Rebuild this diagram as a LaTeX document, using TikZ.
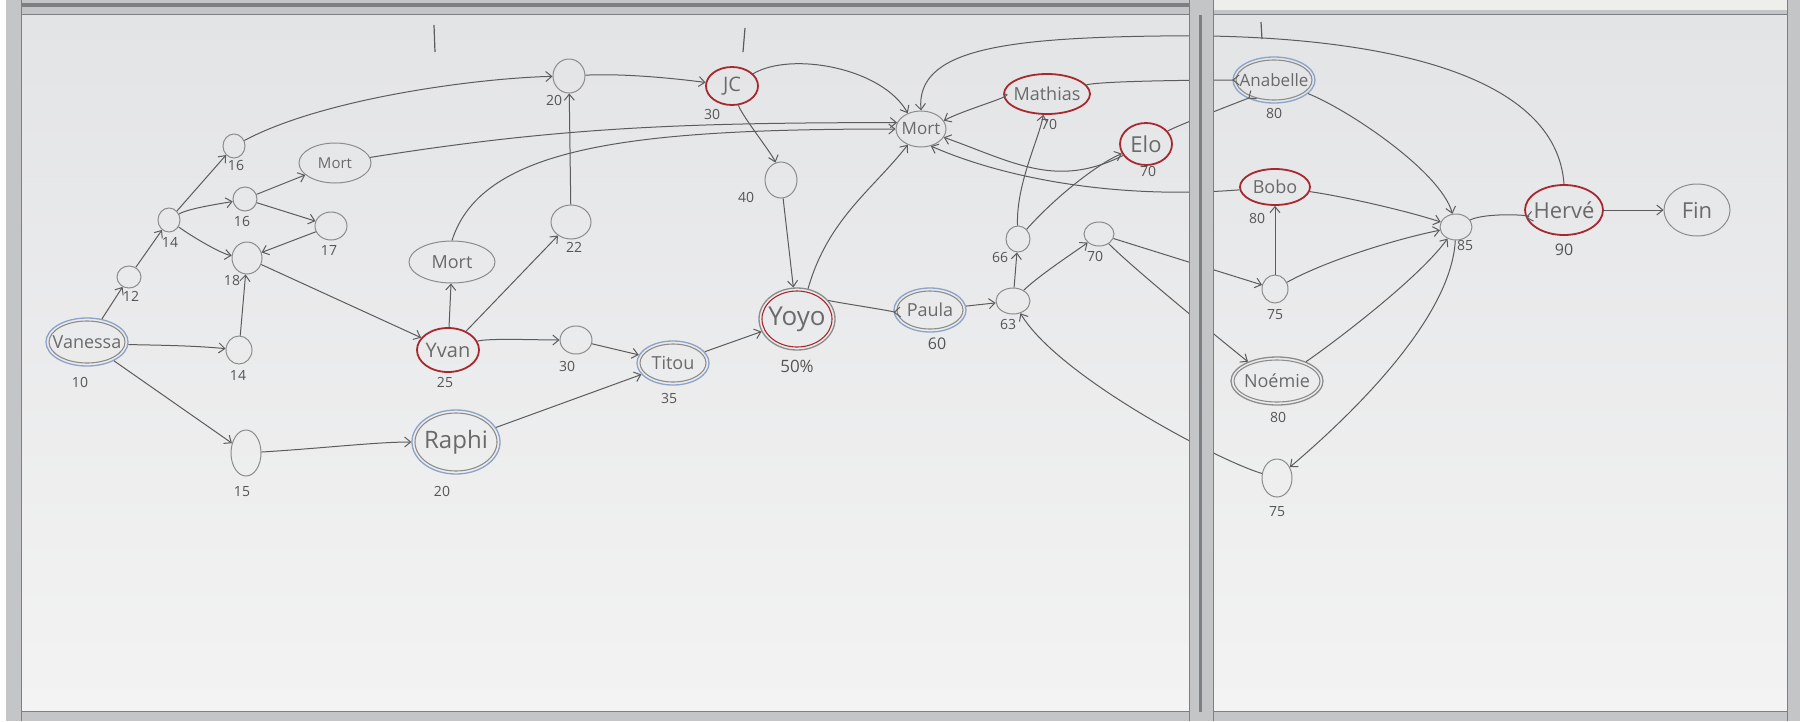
\documentclass[tikz,border=0pt]{standalone}
\usepackage{fontspec}
\setmainfont{Open Sans}
\usetikzlibrary{shapes.geometric,arrows.meta,calc}
\definecolor{wall}{HTML}{EEEEEC}
\definecolor{boardtop}{HTML}{E3E4E6}
\definecolor{boardbot}{HTML}{F3F3F3}
\definecolor{metal}{HTML}{C4C5C7}
\definecolor{metaldark}{HTML}{7E7F82}
\definecolor{linec}{HTML}{5C5C5C}
\definecolor{txt}{HTML}{6A6A6A}
\definecolor{numc}{HTML}{555555}
\definecolor{ringred}{HTML}{A82830}
\definecolor{ringblue}{HTML}{8CA2C8}
\definecolor{ringgray}{HTML}{8C8C8C}
\newcommand\bnm[1]{\makebox[0pt]{#1}}
\begin{document}
\begin{tikzpicture}[x=1pt,y=-1pt,
  nd/.style={ellipse, draw=ringgray, line width=1pt, inner sep=0pt, text=txt,
             font=\fontsize{18}{20}\selectfont},
  sz/.style 2 args={minimum width=#1, minimum height=#2},
  redn/.style={nd, draw=ringred, line width=1.8pt},
  dbl/.style 2 args={nd, draw=#1, line width=1.3pt,
     path picture={\draw[#2, line width=1.1pt]
       let \p1=(path picture bounding box.north east),
           \p2=(path picture bounding box.center) in
       (\p2) ellipse [x radius={\x1-\x2-3pt}, y radius={\y1-\y2-3pt}];}},
  num/.style={text=numc, font=\fontsize{14}{16}\selectfont, inner sep=0pt},
  ed/.style={draw=linec, line width=1pt, -{Straight Barb[length=6pt,width=10pt]}},
  pl/.style={draw=linec, line width=1pt},
  tick/.style={draw=linec, line width=1.2pt}]
% ---------- background, boards ----------
\useasboundingbox (0,0) rectangle (1800,721);
\fill[wall] (0,0) rectangle (1800,721);
\shade[top color=boardtop, bottom color=boardbot] (22,15) rectangle (1190,712);
\shade[top color=boardtop, bottom color=boardbot] (1213,15) rectangle (1787,712);
% ---------- nodes ----------
\node[dbl={ringblue}{ringgray}, sz={82}{48}] (van) at (87,342) {\bnm{Vanessa}};
\node[nd, sz={24}{22}] (n12) at (129,277) {};
\node[nd, sz={22}{24}] (n14a) at (169,220) {};
\node[nd, sz={22}{24}] (n16a) at (234,146) {};
\node[nd, sz={24}{24}] (n16b) at (245,199) {};
\node[nd, sz={72}{40}, font=\fontsize{15}{17}\selectfont] (mort1) at (335,163) {\bnm{Mort}};
\node[nd, sz={32}{28}] (n17) at (331,226) {};
\node[nd, sz={30}{32}] (n18) at (247,258) {};
\node[nd, sz={26}{28}] (n14b) at (239,350) {};
\node[nd, sz={30}{46}] (n15) at (246,453) {};
\node[dbl={ringblue}{ringgray}, sz={88}{64}, font=\fontsize{24}{26}\selectfont] (raphi) at (456,442) {\bnm{Raphi}};
\node[redn, sz={62}{44}, font=\fontsize{20}{22}\selectfont] (yvan) at (448,350) {\bnm{Yvan}};
\node[nd, sz={86}{42}, font=\fontsize{18}{20}\selectfont] (mort2) at (452,262) {\bnm{Mort}};
\node[nd, sz={40}{34}] (n22) at (571,222) {};
\node[nd, sz={32}{34}] (n20) at (569,76) {};
\node[nd, sz={32}{28}] (n30) at (576,340) {};
\node[dbl={ringblue}{ringgray}, sz={72}{44}] (titou) at (673,363) {\bnm{Titou}};
\node[redn, sz={52}{38}, font=\fontsize{20}{22}\selectfont] (jc) at (732,86) {\bnm{JC}};
\node[nd, sz={32}{36}] (n40) at (781,180) {};
\node[dbl={ringgray}{ringred, line width=1.8pt}, sz={76}{62}, font=\fontsize{26}{28}\selectfont] (yoyo) at (797,319) {\bnm{Yoyo}};
\node[nd, sz={50}{36}, font=\fontsize{17}{19}\selectfont] (mort3) at (921,129) {\bnm{Mort}};
\node[dbl={ringblue}{ringgray}, sz={72}{44}] (paula) at (930,310) {\bnm{Paula}};
\node[nd, sz={34}{26}] (n63) at (1013,301) {};
\node[nd, sz={24}{26}] (n66) at (1018,239) {};
\node[nd, sz={30}{24}] (n70) at (1099,234) {};
\node[redn, sz={86}{40}] (mathias) at (1047,94) {\bnm{Mathias}};
\node[redn, sz={52}{42}, font=\fontsize{22}{24}\selectfont] (elo) at (1146,144) {\bnm{Elo}};
\node[dbl={ringblue}{ringgray}, sz={82}{46}, font=\fontsize{17}{19}\selectfont] (anab) at (1274,80) {\bnm{Anabelle}};
\node[redn, sz={70}{36}] (bobo) at (1275,187) {\bnm{Bobo}};
\node[nd, sz={26}{28}] (n75a) at (1275,289) {};
\node[dbl={ringgray}{ringgray}, sz={92}{48}] (noemie) at (1277,381) {\bnm{Noémie}};
\node[nd, sz={30}{38}] (n75b) at (1277,478) {};
\node[nd, sz={32}{26}] (n85) at (1456,227) {};
\node[redn, sz={78}{50}, font=\fontsize{22}{24}\selectfont] (herve) at (1564,210) {\bnm{Hervé}};
\node[nd, sz={66}{52}, font=\fontsize{22}{24}\selectfont] (fin) at (1697,210) {\bnm{Fin}};
% ---------- numbers ----------
\node[num] (l10) at (80,382) {10};
\node[num] (l12) at (131,296) {12};
\node[num] (l14a) at (170,242) {14};
\node[num] (l16a) at (236,165) {16};
\node[num] (l16b) at (242,221) {16};
\node[num] (l17) at (329,250) {17};
\node[num] (l18) at (232,280) {18};
\node[num] (l14b) at (238,375) {14};
\node[num] (l15) at (242,492) {15};
\node[num] (l20r) at (442,491) {20};
\node[num] (l25) at (445,382) {25};
\node[num] (l22) at (574,247) {22};
\node[num] (l20) at (554,100) {20};
\node[num] (l30a) at (567,366) {30};
\node[num] (l35) at (669,398) {35};
\node[num] (l30b) at (712,114) {30};
\node[num] (l40) at (746,197) {40};
\node[num, font=\fontsize{17}{19}\selectfont] (l50) at (797,366) {50\%};
\node[num, font=\fontsize{16}{18}\selectfont] (l60) at (937,344) {60};
\node[num] (l63) at (1008,324) {63};
\node[num] (l66) at (1000,257) {66};
\node[num] (l70c) at (1095,256) {70};
\node[num] (l70a) at (1049,124) {70};
\node[num] (l70b) at (1148,171) {70};
\node[num] (l80a) at (1274,113) {80};
\node[num] (l80b) at (1257,218) {80};
\node[num] (l75a) at (1275,315) {75};
\node[num] (l80c) at (1278,417) {80};
\node[num] (l75b) at (1277,512) {75};
\node[num] (l85) at (1465,245) {85};
\node[num, font=\fontsize{16}{18}\selectfont] (l90) at (1564,250) {90};
% ---------- connectors ----------
\draw[ed] (van) -- (n12);
\draw[ed] (n12) -- (n14a);
\draw[ed] (n14a) -- (n16a);
\draw[ed] (n14a) .. controls +(20,-12) and +(-20,4) .. (n16b);
\draw[ed] (n14a) .. controls +(25,18) and +(-25,-4) .. (n18);
\draw[ed] (n16b) -- (mort1);
\draw[ed] (n16b) -- (n17);
\draw[ed] (n17) -- (n18);
\draw[ed] (n16a) .. controls +(90,-48) and +(-90,2) .. (n20);
\draw[ed] (mort1) .. controls +(220,-35) and +(-220,0) .. (mort3.165);
\draw[ed] (mort2.north) .. controls +(30,-95) and +(-260,0) .. (mort3.west);
\draw[ed] (n20) .. controls +(60,-3) and +(-45,-6) .. (jc);
\draw[ed] (jc) .. controls +(60,-35) and +(-25,-45) .. (mort3.130);
\draw[ed] (jc) .. controls +(10,30) and +(-8,-25) .. (n40);
\draw[ed] (n40) -- (yoyo);
\draw[ed] (yoyo.70) .. controls +(20,-70) and +(-35,45) .. (mort3.230);
\draw[ed] (n22) -- (n20);
\draw[ed] (yvan) -- (n22);
\draw[ed] (yvan) -- (mort2);
\draw[ed] (yvan) .. controls +(40,-12) and +(-40,0) .. (n30);
\draw[ed] (n30) -- (titou);
\draw[ed] (n18) -- (yvan);
\draw[ed] (van) .. controls +(50,3) and +(-50,-5) .. (n14b);
\draw[ed] (n14b) -- (n18);
\draw[ed] (van) -- (n15);
\draw[ed] (n15) .. controls +(80,-5) and +(-80,0) .. (raphi);
\draw[ed] (raphi) -- (titou);
\draw[ed] (titou) -- (yoyo);
\draw[ed] (yoyo) .. controls +(30,-18) and +(-30,2) .. (paula);
\draw[ed] (paula) -- (n63);
\draw[ed] (n63) -- (n66);
\draw[ed] (n63) .. controls +(25,-25) and +(-20,15) .. (n70);
\draw[ed] (n66) .. controls +(-2,-55) and +(-8,45) .. (mathias);
\draw[ed] (n66) .. controls +(40,-45) and +(-45,18) .. (elo);
\draw[ed] (mathias) .. controls +(-25,0) and +(22,-12) .. (mort3.20);
\draw[ed] (elo) .. controls +(-90,45) and +(70,25) .. (mort3.-20);
\draw[ed] (bobo) .. controls +(-150,12) and +(80,35) .. (mort3.-60);
\draw[ed] (herve.north) .. controls +(-10,-140) and +(120,-2) .. (1160,36)
                        .. controls +(-160,2) and +(-5,-60) .. (mort3.north);
\draw[ed] (mathias) .. controls +(60,-14) and +(-30,0) .. (anab);
\draw[ed] (elo) .. controls +(30,-18) and +(-25,18) .. (anab);
\draw[ed] (n70) -- (n75a);
\draw[ed] (n70) .. controls +(40,40) and +(-30,-20) .. (noemie);
\draw[ed] (n75b) .. controls +(-60,-18) and +(45,75) .. (n63);
\draw[ed] (n75a) -- (bobo);
\draw[ed] (n75a) .. controls +(50,-28) and +(-60,12) .. (n85);
\draw[ed] (bobo) .. controls +(60,8) and +(-55,-18) .. (n85);
\draw[ed] (anab) .. controls +(75,30) and +(-15,-55) .. (n85);
\draw[ed] (noemie) .. controls +(45,-30) and +(-40,55) .. (n85);
\draw[ed] (n85) .. controls +(-5,95) and +(65,-55) .. (n75b);
\draw[ed] (n85) .. controls +(30,-15) and +(-25,5) .. (herve);
\draw[ed] (herve) -- (fin);
% ---------- tick marks ----------
\draw[tick] (434,25) -- (435,52);
\draw[tick] (745,28) -- (743,52);
\draw[tick] (1261,22) -- (1262,39);
% ---------- frame ----------
\fill[wall] (1190,0) rectangle (1800,10);
\fill[metal] (0,0) rectangle (1190,15);
\fill[metaldark] (8,3) rectangle (1190,7);
\draw[metaldark, line width=0.8pt] (22,14.5) -- (1190,14.5);
\fill[metal] (1190,10) rectangle (1800,15);
\draw[metaldark, line width=0.8pt] (1213,14.5) -- (1787,14.5);
\fill[metal] (0,711) rectangle (1800,721);
\draw[metaldark, line width=0.8pt] (0,711.5) -- (1800,711.5);
\fill[white] (0,0) rectangle (6,721);
\fill[metal] (6,0) rectangle (22,721);
\draw[metaldark, line width=0.8pt] (21.5,0) -- (21.5,721);
\fill[metal] (1189,0) rectangle (1214,721);
\fill[metaldark] (1199,15) rectangle (1202,712);
\draw[metaldark, line width=0.8pt] (1189.5,0) -- (1189.5,721) (1213.5,0) -- (1213.5,721);
\fill[metal] (1787,0) rectangle (1800,721);
\draw[metaldark, line width=0.8pt] (1787.5,0) -- (1787.5,721);
\end{tikzpicture}
\end{document}
